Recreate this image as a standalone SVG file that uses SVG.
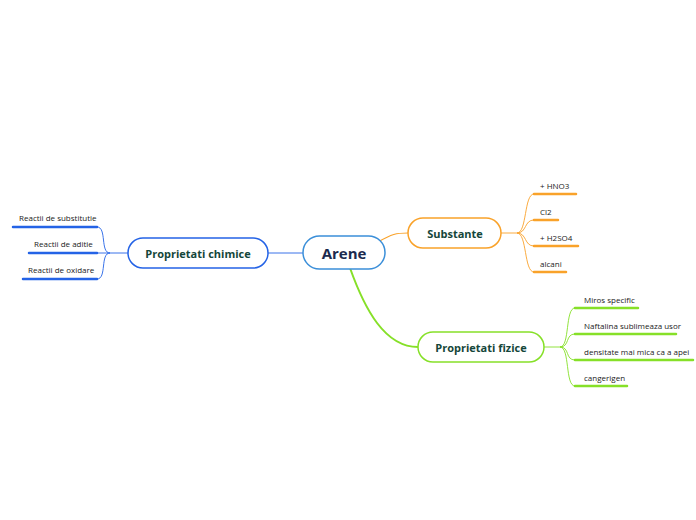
<svg xmlns="http://www.w3.org/2000/svg" width="696" height="520" viewBox="0 0 696 520">
<style>
.node rect{fill:#fff;stroke-width:1.5}
.title{font-family:"Open Sans","Noto Sans",sans-serif;font-weight:bold;fill:#14463a;text-anchor:middle;dominant-baseline:central}
.leaf{font-family:"Open Sans","Noto Sans",sans-serif;font-size:8px;fill:#222}
.ul{stroke-width:2.5;fill:none;stroke-linecap:round}
.br{fill:none;stroke-width:0.9}
.o{stroke:#f9a22a}.b{stroke:#2463e6}.g{stroke:#86e028}
</style>
<rect width="696" height="520" fill="#fff"/>
<g id="connectors">
  <line x1="268" y1="253" x2="303" y2="253" class="br b" stroke-width="1"/>
  <path d="M378,242 C392,234 396,233 408,233" fill="none" stroke="#f9a22a" stroke-width="1.2"/>
  <path d="M350,268 C365,310 385,347 418,347" fill="none" stroke="#86e028" stroke-width="2"/>
  <!-- Substante children -->
  <path d="M501,233 H517 C527,233 524,194 534,194" class="br o"/>
  <path d="M517,233 C527,233 524,220 534,220" class="br o"/>
  <path d="M517,233 C527,233 524,246 534,246" class="br o"/>
  <path d="M517,233 C527,233 524,272 534,272" class="br o"/>
  <line x1="534" y1="194" x2="576" y2="194" class="ul o"/>
  <line x1="534" y1="220" x2="558" y2="220" class="ul o"/>
  <line x1="534" y1="246" x2="578" y2="246" class="ul o"/>
  <line x1="534" y1="272" x2="566" y2="272" class="ul o"/>
  <!-- Proprietati chimice children -->
  <path d="M128,253 H110 C100,253 107,227 97,227" class="br b"/>
  <path d="M110,253 H97" class="br b"/>
  <path d="M110,253 C100,253 107,279 97,279" class="br b"/>
  <line x1="13" y1="227" x2="97" y2="227" class="ul b"/>
  <line x1="29" y1="253" x2="97" y2="253" class="ul b"/>
  <line x1="23" y1="279" x2="97" y2="279" class="ul b"/>
  <!-- Proprietati fizice children -->
  <path d="M544,347 H560 C570,347 565,308 575,308" class="br g"/>
  <path d="M560,347 C570,347 565,334 575,334" class="br g"/>
  <path d="M560,347 C570,347 565,360 575,360" class="br g"/>
  <path d="M560,347 C570,347 565,386 575,386" class="br g"/>
  <line x1="575" y1="308" x2="638" y2="308" class="ul g"/>
  <line x1="575" y1="334" x2="676" y2="334" class="ul g"/>
  <line x1="575" y1="360" x2="693" y2="360" class="ul g"/>
  <line x1="575" y1="386" x2="627" y2="386" class="ul g"/>
</g>
<g id="arene" class="node">
  <rect x="303" y="236" width="82" height="33" rx="16.5" stroke="#3b8fd9"/>
  <text x="344" y="253" class="title" font-size="15" fill="#1b2a4e" style="fill:#1b2a4e">Arene</text>
</g>
<g id="substante" class="node">
  <rect x="408" y="218" width="93" height="30" rx="15" stroke="#f9a22a"/>
  <text x="455" y="233" class="title" font-size="11">Substante</text>
</g>
<g id="chimice" class="node">
  <rect x="128" y="238" width="140" height="30" rx="15" stroke="#2463e6"/>
  <text x="198" y="253" class="title" font-size="11">Proprietati chimice</text>
</g>
<g id="fizice" class="node">
  <rect x="418" y="332" width="126" height="30" rx="15" stroke="#86e028"/>
  <text x="481" y="347" class="title" font-size="11">Proprietati fizice</text>
</g>
<g id="leaf-hno3"><text x="540" y="189" class="leaf">+ HNO3</text></g>
<g id="leaf-cl2"><text x="540" y="215" class="leaf">Cl2</text></g>
<g id="leaf-h2so4"><text x="540" y="241" class="leaf">+ H2SO4</text></g>
<g id="leaf-alcani"><text x="540" y="267" class="leaf">alcani</text></g>
<g id="leaf-subst"><text x="19" y="221" class="leaf">Reactii de substitutie</text></g>
<g id="leaf-aditie"><text x="34" y="247" class="leaf">Reactii de aditie</text></g>
<g id="leaf-oxidare"><text x="28" y="273" class="leaf">Reactii de oxidare</text></g>
<g id="leaf-miros"><text x="584" y="303" class="leaf">Miros specific</text></g>
<g id="leaf-naft"><text x="584" y="329" class="leaf">Naftalina sublimeaza usor</text></g>
<g id="leaf-dens"><text x="584" y="355" class="leaf">densitate mai mica ca a apei</text></g>
<g id="leaf-cang"><text x="584" y="381" class="leaf">cangerigen</text></g>
</svg>
